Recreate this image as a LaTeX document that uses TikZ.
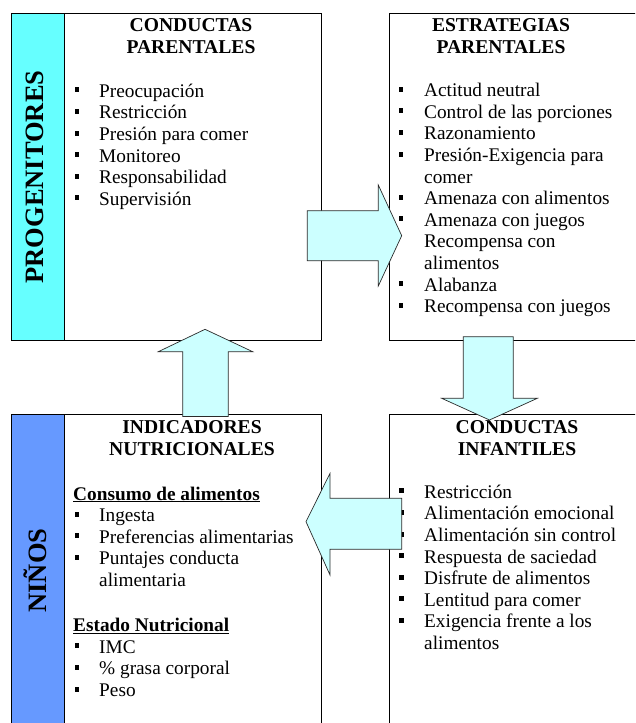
\documentclass[tikz,border=0pt]{standalone}
\usepackage{fontspec}
\setmainfont{Liberation Serif}
\definecolor{topbar}{HTML}{66FFFF}
\definecolor{botbar}{HTML}{6699FF}
\definecolor{arrowfill}{HTML}{CCFFFF}
\definecolor{arrowline}{HTML}{2A2A2A}
\begin{document}
\begin{tikzpicture}[x=1pt,y=-1pt,
  boxst/.style={draw=black,line width=1pt,inner sep=0pt,anchor=north west},
  heading/.style={font=\fontsize{19.6}{21.6}\selectfont\bfseries,anchor=base,inner sep=0pt},
  item/.style={font=\fontsize{19.3}{21.6}\selectfont,anchor=base west,inner sep=0pt},
  subhead/.style={font=\fontsize{19.3}{21.6}\selectfont\bfseries,anchor=base west,inner sep=0pt},
  bul/.style={fill=black,inner sep=0pt,minimum width=4.3pt,minimum height=5pt},
  sidelabel/.style={font=\fontsize{26.5}{28}\selectfont\bfseries,rotate=90,inner sep=0pt},
  blockarrow/.style={fill=arrowfill,draw=arrowline,line width=0.7pt,line join=miter}]
\useasboundingbox (0,0) rectangle (635,723);
\begin{scope}
\clip (0,0) rectangle (635,723);
% boxes
\node[boxst,minimum width=310.5pt,minimum height=327.5pt] (tlbox) at (10.5,12.7) {};
\node[boxst,fill=topbar,minimum width=53.5pt,minimum height=327.5pt] (tlbar) at (10.5,12.7) {};
\node[boxst,minimum width=280pt,minimum height=327.5pt] (trbox) at (388.5,12.7) {};
\node[boxst,minimum width=310.5pt,minimum height=330pt] (blbox) at (10.5,414) {};
\node[boxst,fill=botbar,minimum width=53.5pt,minimum height=330pt] (blbar) at (10.5,414) {};
\node[boxst,minimum width=280pt,minimum height=330pt] (brbox) at (388.5,414) {};
\end{scope}
% side labels
\node[sidelabel] (prog) at (35,177) {PROGENITORES};
\node[sidelabel] (ninos) at (35,570.5) {NIÑOS};
% headings
\node[heading] (h1a) at (191,31.7) {CONDUCTAS};
\node[heading] (h1b) at (191,53.3) {PARENTALES};
\node[heading] (h2a) at (501,31.7) {ESTRATEGIAS};
\node[heading] (h2b) at (501,53.3) {PARENTALES};
\node[heading] (h3a) at (192,433.3) {INDICADORES};
\node[heading] (h3b) at (192,455) {NUTRICIONALES};
\node[heading] (h4a) at (517,433.3) {CONDUCTAS};
\node[heading] (h4b) at (517,455) {INFANTILES};
% top-left list
\foreach \t [count=\i] in {Preocupación,Restricción,Presión para comer,Monitoreo,Responsabilidad,Supervisión}{
  \node[item] (tl\i) at (99,{97.3+21.6*(\i-1)}) {\t};
  \node[bul] (tlb\i) at (77,{97.3+21.6*(\i-1)-7.5}) {};
}
% top-right list
\foreach \b/\t [count=\i] in {1/Actitud neutral,1/Control de las porciones,1/Razonamiento,1/Presión-Exigencia para,0/comer,1/Amenaza con alimentos,1/Amenaza con juegos,0/Recompensa con,0/alimentos,1/Alabanza,1/Recompensa con juegos}{
  \node[item] (tr\i) at (424,{96.7+21.6*(\i-1)}) {\t};
  \ifnum\b=1 \node[bul] (trb\i) at (401,{96.7+21.6*(\i-1)-7.5}) {};\fi
}
% bottom-left lists
\node[subhead] (cons) at (73,500) {\underline{Consumo de alimentos}};
\foreach \b/\t [count=\i] in {1/Ingesta,1/Preferencias alimentarias,1/Puntajes conducta,0/alimentaria}{
  \node[item] (bl\i) at (99,{521.7+21.6*(\i-1)}) {\t};
  \ifnum\b=1 \node[bul] (blb\i) at (77,{521.7+21.6*(\i-1)-7.5}) {};\fi
}
\node[subhead] (est) at (73,631.7) {\underline{Estado Nutricional}};
\foreach \t [count=\i] in {IMC,\% grasa corporal,Peso}{
  \node[item] (bm\i) at (99,{653.3+21.6*(\i-1)}) {\t};
  \node[bul] (bmb\i) at (77,{653.3+21.6*(\i-1)-7.5}) {};
}
% bottom-right list
\foreach \b/\t [count=\i] in {1/Restricción,1/Alimentación emocional,1/Alimentación sin control,1/Respuesta de saciedad,1/Disfrute de alimentos,1/Lentitud para comer,1/Exigencia frente a los,0/alimentos}{
  \node[item] (br\i) at (424,{498.3+21.6*(\i-1)}) {\t};
  \ifnum\b=1 \node[bul] (brb\i) at (401.5,{498.3+21.6*(\i-1)-7.5}) {};\fi
}
% block arrows
\draw[blockarrow] (307.3,210.7) -- (378.3,210.7) -- (378.3,185) -- (401.7,235.7)
  -- (378.3,286) -- (378.3,260.7) -- (307.3,260.7) -- cycle;
\draw[blockarrow] (463.3,336.7) -- (513.3,336.7) -- (513.3,398.3) -- (537.3,398.3)
  -- (489.5,420) -- (441.7,398.3) -- (463.3,398.3) -- cycle;
\draw[blockarrow] (401.7,498.3) -- (330,498.3) -- (330,473.3) -- (306,521.7)
  -- (330,575) -- (330,549.3) -- (401.7,549.3) -- cycle;
\draw[blockarrow] (182.7,416.5) -- (182.7,351.7) -- (158.3,351.7) -- (205,329.3)
  -- (252.7,351.7) -- (228.3,351.7) -- (228.3,416.5) -- cycle;
\end{tikzpicture}
\end{document}
